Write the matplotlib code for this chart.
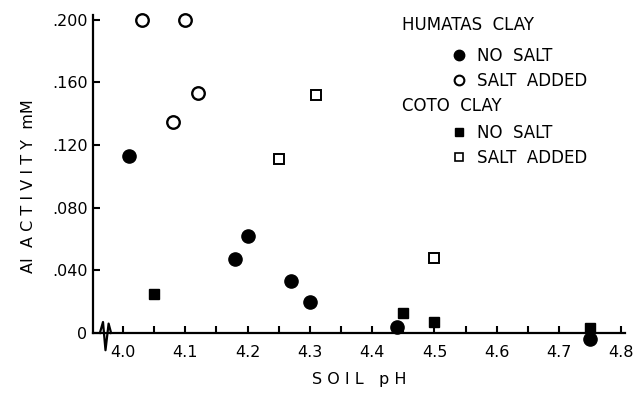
import matplotlib
matplotlib.use("Agg")
import matplotlib.pyplot as plt
from matplotlib.lines import Line2D

# values
hum_nosalt_ph = [4.01, 4.18, 4.20, 4.27, 4.30, 4.44, 4.75]
hum_nosalt_al = [0.113, 0.047, 0.062, 0.033, 0.020, 0.004, -0.004]
hum_salt_ph = [4.03, 4.10, 4.12, 4.08]
hum_salt_al = [0.200, 0.200, 0.153, 0.135]
coto_nosalt_ph = [4.05, 4.45, 4.50, 4.75]
coto_nosalt_al = [0.025, 0.013, 0.007, 0.003]
coto_salt_ph = [4.25, 4.31, 4.50]
coto_salt_al = [0.111, 0.152, 0.048]

xticks = [4.0, 4.1, 4.2, 4.3, 4.4, 4.5, 4.6, 4.7, 4.8]
yticks = [0, 0.040, 0.080, 0.120, 0.160, 0.200]
ylabels = ["0", ".040", ".080", ".120", ".160", ".200"]

# little break mark on the x axis
brk_x = [3.963, 3.968, 3.972, 3.977, 3.981]
brk_y = [0.0, 0.007, -0.011, 0.006, 0.0]

plt.rcParams['font.family'] = 'DejaVu Sans'

fig = plt.figure(figsize=(6.35, 3.93), dpi=100)
ax = fig.add_axes([0.1465, 0.1527, 0.837, 0.809])

ax.plot(hum_nosalt_ph, hum_nosalt_al, 'o', color='black', ms=9.5, clip_on=False, zorder=3)
ax.plot(hum_salt_ph, hum_salt_al, 'o', mfc='white', mec='black', mew=1.7, ms=9, clip_on=False, zorder=3)
ax.plot(coto_nosalt_ph, coto_nosalt_al, 's', color='black', ms=7, clip_on=False, zorder=3)
ax.plot(coto_salt_ph, coto_salt_al, 's', mfc='white', mec='black', mew=1.4, ms=6.5, clip_on=False, zorder=3)

ax.plot(brk_x, brk_y, color='black', lw=1.6, clip_on=False, zorder=4)

ax.set_xlim(3.952, 4.805)
ax.set_ylim(0, 0.203)

for s in ['top', 'right']:
    ax.spines[s].set_visible(False)
for s in ['left', 'bottom']:
    ax.spines[s].set_linewidth(1.6)

ax.set_xticks(xticks)
ax.set_xticklabels([str(x) for x in xticks])
ax.set_xticks([x + 0.05 for x in xticks[:-1]], minor=True)
ax.set_yticks(yticks)
ax.set_yticklabels(ylabels)
ax.tick_params(axis='both', which='both', direction='in', length=5, width=1.5, labelsize=11.5)
ax.tick_params(axis='x', which='both', pad=9)
ax.tick_params(axis='y', pad=4)

ax.set_xlabel("S O I L   p H", fontsize=11.5, labelpad=8)
ax.set_ylabel("AI  A C T I V I T Y  mM", fontsize=11.5)
ax.yaxis.set_label_coords(-0.108, 0.462)

# legend: two headings with their own entries
ax.text(0.581, 0.968, "HUMATAS  CLAY", transform=ax.transAxes, fontsize=12, va='center')
ax.text(0.581, 0.714, "COTO  CLAY", transform=ax.transAxes, fontsize=12, va='center')

h1 = [Line2D([], [], ls='', marker='o', color='black', ms=7.5),
      Line2D([], [], ls='', marker='o', mfc='white', mec='black', mew=1.5, ms=7)]
h2 = [Line2D([], [], ls='', marker='s', color='black', ms=6),
      Line2D([], [], ls='', marker='s', mfc='white', mec='black', mew=1.2, ms=5.5)]
leg_kw = dict(loc='upper left', frameon=False, fontsize=12, handlelength=0.6, handletextpad=0.75,
              labelspacing=0.44, borderpad=0, borderaxespad=0)
leg1 = ax.legend(h1, ["NO  SALT", "SALT  ADDED"], bbox_to_anchor=(0.68, 0.90), **leg_kw)
ax.add_artist(leg1)
ax.legend(h2, ["NO  SALT", "SALT  ADDED"], bbox_to_anchor=(0.68, 0.658), **leg_kw)

fig.savefig("out.png", dpi=100)
